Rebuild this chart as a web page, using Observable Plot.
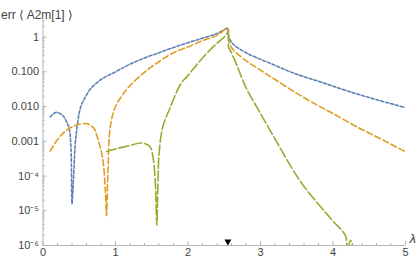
<!DOCTYPE html>
<html>
<head>
<meta charset="utf-8">
<script src="https://cdn.jsdelivr.net/npm/d3@7"></script>
<script src="https://cdn.jsdelivr.net/npm/@observablehq/plot@0.6"></script>
<style>
  html, body { margin: 0; padding: 0; background: #fff; }
  #chart svg { display: block; }
</style>
</head>
<body>
<div id="chart"></div>
<script>
// ---- data ----
const blueX = [0.10,0.15,0.19,0.25,0.29,0.33,0.36,0.38,0.39,0.40,0.425,0.45,0.52,0.58,0.655,0.8,1.0,1.2,1.4,1.6,1.8,2.0,2.2,2.4,2.55,2.55,2.6,2.8,3.14,3.5,3.83,4.2,4.6,5.0];
const blueY = [5.0e-3,6.3e-3,6.8e-3,6.0e-3,5.0e-3,3.5e-3,2.4e-3,1.1e-3,3.5e-4,1.6e-5,1.3e-4,1.1e-3,9.8e-3,1.8e-2,3.2e-2,6.0e-2,0.10,0.166,0.25,0.355,0.50,0.69,0.93,1.26,1.78,1.41,0.71,0.355,0.174,0.085,0.051,0.028,0.0158,0.0093];

const orangeX = [0.10,0.2,0.3,0.4,0.5,0.61,0.7,0.75,0.82,0.86,0.876,0.895,0.93,1.0,1.1,1.2,1.35,1.5,1.8,2.0,2.2,2.4,2.55,2.56,2.6,2.8,3.0,3.2,3.5,3.8,4.0,4.3,4.6,5.0];
const orangeY = [5.2e-4,1.12e-3,1.9e-3,2.6e-3,3.1e-3,3.2e-3,2.4e-3,1.3e-3,3.5e-4,3.9e-5,7.2e-6,1.2e-4,2.8e-3,0.010,0.022,0.040,0.079,0.141,0.355,0.52,0.79,1.12,1.78,1.0,0.50,0.21,0.112,0.060,0.024,0.0105,0.0063,0.0028,0.00135,5.0e-4];

const greenX = [0.876,1.0,1.2,1.34,1.42,1.48,1.52,1.55,1.57,1.585,1.60,1.65,1.75,1.9,2.0,2.1,2.2,2.3,2.4,2.5,2.55,2.56,2.6,2.7,2.8,3.0,3.2,3.44,3.6,3.83,4.0,4.17,4.20,4.24,4.30];
const greenY = [5.1e-4,6.0e-4,7.6e-4,8.9e-4,8.3e-4,6.8e-4,3.2e-4,6.3e-5,3.8e-6,6.3e-5,4.0e-4,2.5e-3,8.9e-3,0.045,0.079,0.141,0.25,0.42,0.66,1.0,1.32,0.52,0.355,0.112,0.035,6.3e-3,1.17e-3,1.6e-4,5.0e-5,1.3e-5,5.0e-6,1.95e-6,6.3e-7,1.4e-6,6.3e-7];

const markerX = [2.55];

const xTicks = [0,1,2,3,4,5];
const xTickLabels = ["0","1","2","3","4","5"];
const yTicks = [1e-6,1e-5,1e-4,1e-3,1e-2,1e-1,1];
const yTickLabels = ["10\u207B\u2076","10\u207B\u2075","10\u207B\u2074","0.001","0.010","0.100","1"];

const yLabel = "err \u27E8 A2m[1] \u27E9";
const xLabel = "\u03BB";

// ---- build ----
const toRows = (xs, ys) => xs.map((x, i) => ({x, y: ys[i]}));
const blue = toRows(blueX, blueY);
const orange = toRows(orangeX, orangeY);
const green = toRows(greenX, greenY);

const xMinor = d3.range(0, 5.001, 0.2).map(v => +v.toFixed(1)).filter(v => !xTicks.includes(v));
const yMinor = [];
for (let e = -6; e <= 0; e++) for (let k = 2; k <= 9; k++) { const v = k * 10 ** e; if (v <= 3) yMinor.push(v); }

const axisColor = "#b4b4b4";
const textColor = "#444";

const chart = Plot.plot({
  width: 420,
  height: 262,
  marginLeft: 42.5,
  marginRight: 15,
  marginTop: 20,
  marginBottom: 17,
  style: { fontFamily: "'Liberation Sans', Arial, sans-serif", fontSize: "11px", background: "#fff", color: textColor },
  x: { domain: [0, 5], label: null },
  y: { type: "log", domain: [1e-6, 3], label: null },
  marks: [
    Plot.ruleX([0], { stroke: axisColor, strokeWidth: 1 }),
    Plot.ruleY([1e-6], { stroke: axisColor, strokeWidth: 1 }),
    // major ticks (inward)
    Plot.axisX(xTicks, { label: null, tickSize: -4, tickPadding: 7, stroke: axisColor, tickFormat: d => xTickLabels[xTicks.indexOf(d)], fill: textColor, fontSize: 11 }),
    Plot.axisX(xMinor, { label: null, tickSize: -2, tickFormat: () => "", stroke: axisColor }),
    Plot.axisY(yTicks, { label: null, tickSize: -4, tickPadding: 8, stroke: axisColor, tickFormat: d => yTickLabels[yTicks.indexOf(d)], fill: textColor, fontSize: 11 }),
    Plot.axisY(yMinor, { label: null, tickSize: -2, tickFormat: () => "", stroke: axisColor }),
    // curves
    Plot.line(blue, { x: "x", y: "y", stroke: "#5E81B5", strokeWidth: 1.6, strokeDasharray: "3,2", curve: "catmull-rom", clip: true }),
    Plot.line(orange, { x: "x", y: "y", stroke: "#E19C24", strokeWidth: 1.6, strokeDasharray: "6,3", curve: "catmull-rom", clip: true }),
    Plot.line(green, { x: "x", y: "y", stroke: "#8FB032", strokeWidth: 1.6, strokeDasharray: "10,3", curve: "catmull-rom", clip: true }),
    // marker
    Plot.dot(markerX, { x: d => d, y: () => 1e-6, symbol: "triangle", rotate: 180, r: 2.6, fill: "#000", stroke: null, dy: -4 }),
    // axis labels
    Plot.text([yLabel], { frameAnchor: "top-left", text: d => d, textAnchor: "start", dx: -42, dy: -10, fontSize: 12, fill: textColor }),
    Plot.text([xLabel], { frameAnchor: "bottom-right", text: d => d, textAnchor: "start", dx: 4, dy: -3, fontSize: 13, fontStyle: "italic", fill: textColor })
  ]
});
document.getElementById("chart").appendChild(chart);
</script>
</body>
</html>
